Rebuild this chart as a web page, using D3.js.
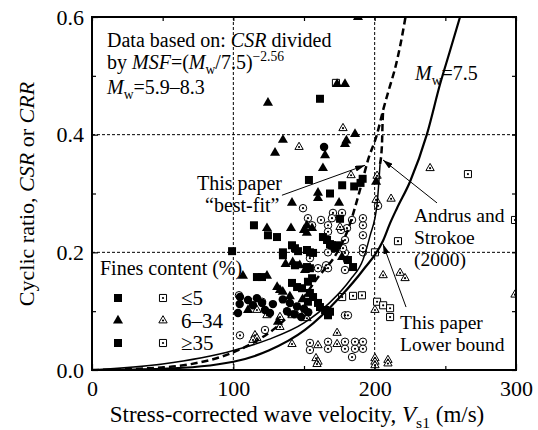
<!DOCTYPE html>
<html>
<head>
<meta charset="utf-8">
<script src="https://cdn.jsdelivr.net/npm/d3@7"></script>
<style>
body { margin: 0; background: #fff; }
svg { display: block; font-family: "Liberation Serif", "Times New Roman", serif; }
</style>
</head>
<body>
<div id="chart"></div>
<script>
// axis ticks
const xMajor = [0, 100, 200, 300];
const xMinor = [50, 150, 250];
const yMajor = [0, 0.2, 0.4, 0.6];
const yMinor = [0.1, 0.3, 0.5];
const gridX = [100, 200];
const gridY = [0.2, 0.4];

// curves, [Vs1, CRR]
const bestFit = [[0, 0], [40, 0.003], [70, 0.01], [100, 0.03], [113, 0.045], [130, 0.072], [145, 0.108], [160, 0.158],
    [173, 0.198], [181, 0.238], [189.6, 0.306], [195.3, 0.357], [201.7, 0.401], [206, 0.442], [210, 0.476],
    [215, 0.518], [220.8, 0.586], [221.8, 0.6]];
const andrusSolid = [[0, 0], [50, 0.01], [100, 0.033], [125, 0.052], [150, 0.08], [168.4, 0.115], [182.6, 0.153],
    [191.8, 0.188], [196.7, 0.228], [201.7, 0.282], [203.8, 0.35]];
const andrusDashed = [[203.8, 0.35], [205.2, 0.385], [205.5, 0.413], [206, 0.442]];
const lowerBound = [[0, 0], [50, 0.002], [100, 0.014], [125, 0.033], [150.7, 0.068], [175.5, 0.124], [191.8, 0.17],
    [206, 0.22], [211, 0.25], [215.8, 0.275], [225, 0.32], [237, 0.401], [246.3, 0.486], [253, 0.54], [260.4, 0.6]];

// liquefied cases (filled)
const liqClean = [[161.3, 0.461], [191.5, 0.325], [190, 0.318], [185.5, 0.312], [177, 0.314], [153.5, 0.323],
    [168.4, 0.300], [114.6, 0.246], [124.5, 0.229], [130.9, 0.226], [99.1, 0.202], [135.1, 0.200], [141.5, 0.212],
    [143.6, 0.207], [145.8, 0.202], [152.1, 0.204], [175.5, 0.257], [163.4, 0.226], [166.3, 0.221], [169.8, 0.212],
    [173.4, 0.212], [171.9, 0.207], [154.2, 0.200], [156.4, 0.199], [168.4, 0.214], [181.1, 0.187], [184.7, 0.175],
    [116.7, 0.158], [120.3, 0.158], [143.6, 0.178], [135.1, 0.195], [141.5, 0.148], [145.1, 0.141], [148.6, 0.139],
    [152.1, 0.175], [154.2, 0.173], [155.7, 0.156], [152.8, 0.150], [154.2, 0.131], [156.4, 0.124], [152.8, 0.116],
    [159.9, 0.114], [161.3, 0.107], [164.9, 0.102], [168.4, 0.099], [167, 0.093]];
const liqSilty = [[188.2, 0.600], [173.4, 0.486], [179, 0.486], [124.5, 0.454], [186.1, 0.401], [135.1, 0.391],
    [180, 0.390], [179, 0.384], [164.9, 0.365], [129.5, 0.369], [163.4, 0.343], [201, 0.320], [159.9, 0.301],
    [159.9, 0.292], [174.8, 0.284], [141.5, 0.284], [123.8, 0.241], [140.8, 0.241], [150, 0.238], [152, 0.233],
    [152, 0.246], [155.7, 0.241], [106.8, 0.160], [123.8, 0.160], [150.7, 0.170], [131, 0.141], [133, 0.136],
    [135, 0.133], [110.4, 0.102], [131.6, 0.082], [137, 0.180], [142, 0.183], [147, 0.178], [176.9, 0.192],
    [140, 0.125], [149, 0.120]];
const liqSilt = [[164.2, 0.379], [104.7, 0.124], [110.4, 0.119], [116.7, 0.122], [113.9, 0.110], [120.3, 0.114],
    [103.3, 0.097], [122.4, 0.102], [125.9, 0.097], [104.5, 0.112], [135, 0.120], [140, 0.114], [145, 0.108],
    [150, 0.104], [138, 0.100], [143, 0.095], [148, 0.090], [153, 0.098], [128, 0.112]];

// non-liquefied cases (open)
const nonClean = [[172.6, 0.488], [266, 0.333], [299.3, 0.255], [216.5, 0.219], [200.2, 0.200], [177, 0.124],
    [184.7, 0.126], [191, 0.127], [201.7, 0.116], [206, 0.110], [210.9, 0.105], [210.9, 0.090]];
const nonSilty = [[177.6, 0.411], [146.5, 0.379], [183.3, 0.331], [201.7, 0.330], [201, 0.289], [211.6, 0.291],
    [239.2, 0.343], [175.5, 0.243], [218, 0.165], [221.5, 0.156], [299.3, 0.128], [206, 0.161], [200.2, 0.102],
    [173.4, 0.063], [116.7, 0.102], [123.8, 0.093], [133, 0.090], [141.5, 0.093], [145.1, 0.093], [149.3, 0.093],
    [152.1, 0.088], [115.3, 0.059], [116.7, 0.054], [113.9, 0.051], [133, 0.073], [141.5, 0.044], [159.9, 0.042],
    [173.4, 0.044], [158.5, 0.020], [159.9, 0.014], [159.2, 0.010], [200.2, 0.020], [200.2, 0.014], [200.2, 0.008],
    [209.4, 0.017], [209.4, 0.011]];
const nonSilt = [[149.3, 0.275], [170.5, 0.267], [202.4, 0.279], [169.8, 0.258], [176.9, 0.267], [167, 0.246],
    [184, 0.255], [180.4, 0.241], [191.7, 0.246], [191.7, 0.229], [179, 0.221], [167, 0.2], [179, 0.199],
    [191.7, 0.2], [155.7, 0.246], [152.8, 0.258], [162, 0.255], [176.2, 0.238], [167, 0.235], [191.7, 0.258],
    [177.6, 0.207], [191.7, 0.207], [165.6, 0.178], [154.2, 0.19], [159.9, 0.173], [167, 0.173], [179, 0.17],
    [180.4, 0.187], [179, 0.093], [181.1, 0.093], [104, 0.127], [120.3, 0.116], [104.7, 0.059], [122.4, 0.068],
    [154.2, 0.046], [154.2, 0.034], [167, 0.048], [167, 0.036], [179, 0.048], [179, 0.036], [186.1, 0.048],
    [186.1, 0.036], [191.7, 0.048], [191.7, 0.036], [184, 0.022]];

// legend rows
const legendLabels = ["\u22645", "6\u201334", "\u226535"];

// annotation arrows, [from, to] in data units
const arrowBest = [[134.4, 0.297], [193.2, 0.348]];
const arrowAndrus = [[244.1, 0.284], [205.9, 0.357]];
const arrowLower = [[222.2, 0.107], [205.9, 0.214]];

const width = 538, height = 430;
const margin = {top: 17, right: 22, bottom: 60, left: 92};

const svg = d3.select("#chart").append("svg")
    .attr("width", width)
    .attr("height", height);

const x = d3.scaleLinear().domain([0, 300]).range([margin.left, width - margin.right]);
const y = d3.scaleLinear().domain([0, 0.6]).range([height - margin.bottom, margin.top]);

svg.append("defs").append("clipPath").attr("id", "plot")
    .append("rect")
    .attr("x", x(0)).attr("y", y(0.6))
    .attr("width", x(300) - x(0)).attr("height", y(0) - y(0.6));

svg.select("defs").append("marker")
    .attr("id", "arrow")
    .attr("viewBox", "0 0 10 6")
    .attr("refX", 10).attr("refY", 3)
    .attr("markerWidth", 10).attr("markerHeight", 6)
    .attr("markerUnits", "userSpaceOnUse")
    .attr("orient", "auto")
    .append("path")
    .attr("d", "M0,0L10,3L0,6Z")
    .attr("fill", "#000");

// grid
svg.append("g").selectAll("line").data(gridX).enter().append("line")
    .attr("x1", d => x(d)).attr("x2", d => x(d))
    .attr("y1", y(0)).attr("y2", y(0.6))
    .attr("stroke", "#000").attr("stroke-width", 1).attr("stroke-dasharray", "3,2");
svg.append("g").selectAll("line").data(gridY).enter().append("line")
    .attr("x1", x(0)).attr("x2", x(300))
    .attr("y1", d => y(d)).attr("y2", d => y(d))
    .attr("stroke", "#000").attr("stroke-width", 1).attr("stroke-dasharray", "3,2");

// points
function drawPoints(data, type, size, filled) {
    let g = svg.append("g").attr("clip-path", "url(#plot)");
    let sym = d3.symbol().type(type).size(size);
    g.selectAll("path").data(data).enter().append("path")
        .attr("transform", d => "translate(" + x(d[0]) + "," + y(d[1]) + ")")
        .attr("d", sym)
        .attr("fill", filled ? "#000" : "#fff")
        .attr("stroke", filled ? "none" : "#000")
        .attr("stroke-width", 1);
    if (!filled) {
        g.selectAll("circle").data(data).enter().append("circle")
            .attr("cx", d => x(d[0])).attr("cy", d => y(d[1]))
            .attr("r", 1.1).attr("fill", "#000");
    }
}

drawPoints(nonSilt, d3.symbolCircle, 44, false);
drawPoints(nonSilty, d3.symbolTriangle, 30, false);
drawPoints(nonClean, d3.symbolSquare, 50, false);
drawPoints(liqSilt, d3.symbolCircle, 56, true);
drawPoints(liqClean, d3.symbolSquare, 64, true);
drawPoints(liqSilty, d3.symbolTriangle, 44, true);

// curves
let line = d3.line()
    .x(d => x(d[0]))
    .y(d => y(d[1]))
    .curve(d3.curveMonotoneX);
let curves = svg.append("g").attr("clip-path", "url(#plot)");
curves.append("path").attr("d", line(bestFit))
    .attr("fill", "none").attr("stroke", "#000").attr("stroke-width", 2.5).attr("stroke-dasharray", "7,4");
curves.append("path").attr("d", line(andrusSolid))
    .attr("fill", "none").attr("stroke", "#000").attr("stroke-width", 1.5);
curves.append("path").attr("d", line(andrusDashed))
    .attr("fill", "none").attr("stroke", "#000").attr("stroke-width", 2.5).attr("stroke-dasharray", "7,4");
curves.append("path").attr("d", line(lowerBound))
    .attr("fill", "none").attr("stroke", "#000").attr("stroke-width", 2.2);

// arrows
[arrowBest, arrowAndrus, arrowLower].forEach(a => {
    svg.append("line")
        .attr("x1", x(a[0][0])).attr("y1", y(a[0][1]))
        .attr("x2", x(a[1][0])).attr("y2", y(a[1][1]))
        .attr("stroke", "#000").attr("stroke-width", 1)
        .attr("marker-end", "url(#arrow)");
});

// axes with inward ticks
function styleAxis(g) {
    g.select(".domain").remove();
    g.attr("font-family", null).attr("font-size", 22);
    g.selectAll("line").attr("stroke-width", 1.2);
}
svg.append("g").attr("transform", "translate(0," + y(0) + ")")
    .call(d3.axisBottom(x).tickValues(xMajor).tickSizeInner(-6).tickSizeOuter(0).tickPadding(10).tickFormat(d3.format("d")))
    .call(styleAxis);
svg.append("g").attr("transform", "translate(0," + y(0) + ")")
    .call(d3.axisBottom(x).tickValues(xMinor).tickSizeInner(-4).tickSizeOuter(0).tickFormat(""))
    .call(styleAxis);
svg.append("g").attr("transform", "translate(0," + y(0.6) + ")")
    .call(d3.axisTop(x).tickValues(xMajor.concat(xMinor)).tickSizeInner(-4).tickSizeOuter(0).tickFormat(""))
    .call(styleAxis);
svg.append("g").attr("transform", "translate(" + x(0) + ",0)")
    .call(d3.axisLeft(y).tickValues(yMajor).tickSizeInner(-6).tickSizeOuter(0).tickPadding(8).tickFormat(d3.format(".1f")))
    .call(styleAxis);
svg.append("g").attr("transform", "translate(" + x(0) + ",0)")
    .call(d3.axisLeft(y).tickValues(yMinor).tickSizeInner(-4).tickSizeOuter(0).tickFormat(""))
    .call(styleAxis);
svg.append("g").attr("transform", "translate(" + x(300) + ",0)")
    .call(d3.axisRight(y).tickValues(yMajor.concat(yMinor)).tickSizeInner(-4).tickSizeOuter(0).tickFormat(""))
    .call(styleAxis);

// frame
svg.append("rect")
    .attr("x", x(0)).attr("y", y(0.6))
    .attr("width", x(300) - x(0)).attr("height", y(0) - y(0.6))
    .attr("fill", "none").attr("stroke", "#000").attr("stroke-width", 2);

// text with italic / sub / sup parts
function rich(g, px, py, parts, size, anchor) {
    let t = g.append("text").attr("x", px).attr("y", py)
        .attr("font-size", size).attr("text-anchor", anchor || "start");
    let shift = 0;
    parts.forEach(p => {
        let str = typeof p === "string" ? p : p[0];
        let st = typeof p === "string" ? "" : p[1];
        let span = t.append("tspan").text(str);
        let target = 0;
        if (st === "sub") target = size * 0.25;
        if (st === "sup") target = -size * 0.38;
        if (target !== shift) { span.attr("dy", target - shift); shift = target; }
        if (st === "sub" || st === "sup") span.attr("font-size", size * 0.68);
        if (st === "i") span.attr("font-style", "italic");
    });
    return t;
}

// notes
rich(svg, 107, 47, ["Data based on: ", ["CSR", "i"], " divided"], 20);
rich(svg, 107, 69, ["by ", ["MSF", "i"], "=(", ["M", "i"], ["w", "sub"], "/7.5)", ["\u22122.56", "sup"]], 20);
rich(svg, 107, 94, [["M", "i"], ["w", "sub"], "=5.9\u20138.3"], 20);
rich(svg, 415, 80, [["M", "i"], ["w", "sub"], "=7.5"], 20);
rich(svg, 197, 190, ["This paper"], 20);
rich(svg, 205, 212, ["\u201cbest-fit\u201d"], 20);
rich(svg, 414, 222, ["Andrus and"], 19.5);
rich(svg, 414, 244, ["Strokoe"], 19.5);
rich(svg, 414, 266, ["(2000)"], 19.5);
rich(svg, 400, 329, ["This paper"], 19.5);
rich(svg, 400, 351, ["Lower bound"], 19.5);

// axis titles
rich(svg, 297, 422, ["Stress-corrected wave velocity, ", ["V", "i"], ["s1", "sub"], " (m/s)"], 23, "middle");
rich(svg.append("g").attr("transform", "translate(34,194) rotate(-90)"), 0, 0,
    ["Cyclic ratio, ", ["CSR", "i"], " or ", ["CRR", "i"]], 22, "middle");

// legend
rich(svg, 100, 275, ["Fines content (%)"], 20);
let legendFilled = [[d3.symbolSquare, 64], [d3.symbolTriangle, 44], [d3.symbolSquare, 64]];
let legendOpen = [[d3.symbolSquare, 50], [d3.symbolTriangle, 30], [d3.symbolSquare, 50]];
legendLabels.forEach((lab, i) => {
    let cy = 298 + i * 22.5;
    svg.append("path").attr("transform", "translate(118," + cy + ")")
        .attr("d", d3.symbol().type(legendFilled[i][0]).size(legendFilled[i][1]))
        .attr("fill", "#000");
    svg.append("path").attr("transform", "translate(163," + cy + ")")
        .attr("d", d3.symbol().type(legendOpen[i][0]).size(legendOpen[i][1]))
        .attr("fill", "#fff").attr("stroke", "#000").attr("stroke-width", 1);
    svg.append("circle").attr("cx", 163).attr("cy", cy).attr("r", 1.1).attr("fill", "#000");
    rich(svg, 181, cy + 7, [lab], 21);
});
</script>
</body>
</html>
